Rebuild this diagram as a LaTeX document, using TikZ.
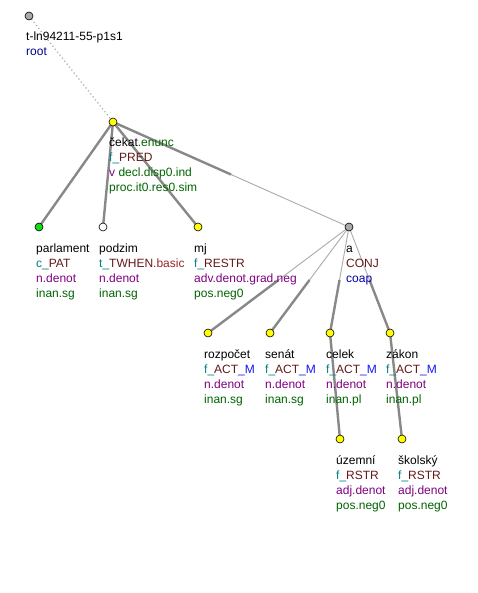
\documentclass[tikz,border=0pt]{standalone}
\usepackage{fontspec}
\setmainfont{Liberation Sans}
\usetikzlibrary{calc,backgrounds}
\definecolor{cteal}{RGB}{0,128,128}
\definecolor{cfun}{RGB}{100,24,24}
\definecolor{cbasic}{RGB}{150,40,40}
\definecolor{cblue}{RGB}{20,20,245}
\definecolor{ccoap}{RGB}{0,0,165}
\definecolor{cdblue}{RGB}{0,0,140}
\definecolor{cpurp}{RGB}{128,0,128}
\definecolor{cgreen}{RGB}{0,100,0}
\definecolor{cyel}{RGB}{255,255,0}
\definecolor{cgray}{RGB}{170,170,170}
\definecolor{cgreenn}{RGB}{20,220,20}
\definecolor{cedge}{RGB}{136,136,136}
\newcommand{\mylbl}[1]{\vtop{\baselineskip=15pt #1}}
\newcommand{\myln}[1]{\hbox{\strut #1}}
\tikzset{
  x=1pt, y=-1pt,
  tnode/.style={circle, draw=black, line width=0.6pt, minimum size=8pt, inner sep=0pt},
  tlabel/.style={anchor=base west, inner sep=0pt, font=\fontsize{12}{15}\selectfont},
  thickedge/.style={draw=cedge, line width=2.4pt},
  thinedge/.style={draw=cgray, line width=0.9pt},
  rootedge/.style={draw=cgray, line width=1.2pt, dash pattern=on 1.2pt off 2.6pt},
}
\begin{document}
\begin{tikzpicture}
\useasboundingbox (0,0) rectangle (478,593);
\node[tnode, fill=cgray] (root) at (29,16) {};
\node[tnode, fill=cyel] (cekat) at (113,122) {};
\node[tnode, fill=cgreenn] (parlament) at (39,227) {};
\node[tnode, fill=white] (podzim) at (103,227) {};
\node[tnode, fill=cyel] (mj) at (198,227) {};
\node[tnode, fill=cgray] (a) at (349,227) {};
\node[tnode, fill=cyel] (rozpocet) at (208,333) {};
\node[tnode, fill=cyel] (senat) at (270,333) {};
\node[tnode, fill=cyel] (celek) at (330,333) {};
\node[tnode, fill=cyel] (zakon) at (390,333) {};
\node[tnode, fill=cyel] (uzemni) at (340,439) {};
\node[tnode, fill=cyel] (skolsky) at (402,439) {};

\begin{scope}[on background layer]
\draw[rootedge] (root.center) -- (cekat.center);
\draw[thickedge] (cekat.center) -- (parlament.center);
\draw[thickedge] (cekat.center) -- (podzim.center);
\draw[thickedge] (cekat.center) -- (mj.center);
\draw[thinedge] (cekat.center) -- (a.center);
\draw[thickedge] (cekat.center) -- ($(cekat)!0.5!(a)$);
\foreach \c in {rozpocet,senat,celek,zakon}{
  \draw[thinedge] (a.center) -- (\c.center);
  \draw[thickedge] ($(a)!0.5!(\c)$) -- (\c.center);
}
\draw[thickedge] (celek.center) -- (uzemni.center);
\draw[thickedge] (zakon.center) -- (skolsky.center);
\end{scope}

\node[tlabel] (lroot) at (26,41) {\mylbl{\myln{t-ln94211-55-p1s1}\myln{\textcolor{cdblue}{root}}}};
\node[tlabel] (lcekat) at (109,147) {\mylbl{\myln{čekat\textcolor{cgreen}{.enunc}}\myln{\textcolor{cteal}{f\_}\textcolor{cfun}{PRED}}\myln{\textcolor{cpurp}{v} \textcolor{cgreen}{decl.disp0.ind}}\myln{\textcolor{cgreen}{proc.it0.res0.sim}}}};
\node[tlabel] (lparlament) at (36,252) {\mylbl{\myln{parlament}\myln{\textcolor{cteal}{c\_}\textcolor{cfun}{PAT}}\myln{\textcolor{cpurp}{n.denot}}\myln{\textcolor{cgreen}{inan.sg}}}};
\node[tlabel] (lpodzim) at (99,252) {\mylbl{\myln{podzim}\myln{\textcolor{cteal}{t\_}\textcolor{cfun}{TWHEN}\textcolor{cbasic}{.basic}}\myln{\textcolor{cpurp}{n.denot}}\myln{\textcolor{cgreen}{inan.sg}}}};
\node[tlabel] (lmj) at (194,252) {\mylbl{\myln{mj}\myln{\textcolor{cteal}{f\_}\textcolor{cfun}{RESTR}}\myln{\textcolor{cpurp}{adv.denot.grad.neg}}\myln{\textcolor{cgreen}{pos.neg0}}}};
\node[tlabel] (la) at (346,252) {\mylbl{\myln{a}\myln{\textcolor{cfun}{CONJ}}\myln{\textcolor{ccoap}{coap}}}};
\node[tlabel] (lrozpocet) at (204,358) {\mylbl{\myln{rozpočet}\myln{\textcolor{cteal}{f\_}\textcolor{cfun}{ACT}\textcolor{cblue}{\_M}}\myln{\textcolor{cpurp}{n.denot}}\myln{\textcolor{cgreen}{inan.sg}}}};
\node[tlabel] (lsenat) at (265,358) {\mylbl{\myln{senát}\myln{\textcolor{cteal}{f\_}\textcolor{cfun}{ACT}\textcolor{cblue}{\_M}}\myln{\textcolor{cpurp}{n.denot}}\myln{\textcolor{cgreen}{inan.sg}}}};
\node[tlabel] (lcelek) at (326,358) {\mylbl{\myln{celek}\myln{\textcolor{cteal}{f\_}\textcolor{cfun}{ACT}\textcolor{cblue}{\_M}}\myln{\textcolor{cpurp}{n.denot}}\myln{\textcolor{cgreen}{inan.pl}}}};
\node[tlabel] (lzakon) at (386,358) {\mylbl{\myln{zákon}\myln{\textcolor{cteal}{f\_}\textcolor{cfun}{ACT}\textcolor{cblue}{\_M}}\myln{\textcolor{cpurp}{n.denot}}\myln{\textcolor{cgreen}{inan.pl}}}};
\node[tlabel] (luzemni) at (336,464) {\mylbl{\myln{územní}\myln{\textcolor{cteal}{f\_}\textcolor{cfun}{RSTR}}\myln{\textcolor{cpurp}{adj.denot}}\myln{\textcolor{cgreen}{pos.neg0}}}};
\node[tlabel] (lskolsky) at (398,464) {\mylbl{\myln{školský}\myln{\textcolor{cteal}{f\_}\textcolor{cfun}{RSTR}}\myln{\textcolor{cpurp}{adj.denot}}\myln{\textcolor{cgreen}{pos.neg0}}}};
\end{tikzpicture}
\end{document}
